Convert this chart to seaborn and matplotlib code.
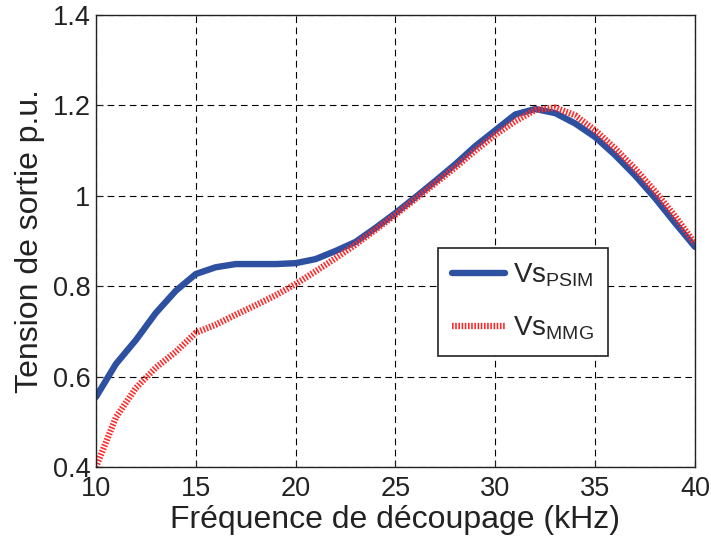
import matplotlib
matplotlib.use('Agg')
import matplotlib.pyplot as plt
import seaborn as sns
import pandas as pd
from matplotlib.ticker import FuncFormatter

# switching frequency (kHz)
freq = [10, 11, 12, 13, 14, 15, 16, 17, 18, 19, 20, 21, 22, 23, 24, 25,
        26, 27, 28, 29, 30, 31, 32, 33, 34, 35, 36, 37, 38, 39, 40]
# output voltage p.u., PSIM simulation
vs_psim = [0.555, 0.628, 0.681, 0.741, 0.790, 0.827, 0.842, 0.849, 0.849, 0.849, 0.851,
           0.860, 0.878, 0.898, 0.929, 0.962, 0.997, 1.033, 1.070, 1.110, 1.145,
           1.180, 1.192, 1.183, 1.160, 1.130, 1.090, 1.045, 0.995, 0.940, 0.887]
# output voltage p.u., MMG model
vs_mmg = [0.400, 0.510, 0.575, 0.620, 0.655, 0.697, 0.715, 0.737, 0.758, 0.780, 0.805,
          0.833, 0.862, 0.892, 0.925, 0.958, 0.993, 1.028, 1.063, 1.100, 1.135,
          1.165, 1.190, 1.195, 1.178, 1.145, 1.105, 1.060, 1.010, 0.955, 0.895]

labels = [r'Vs$_{\mathrm{PSIM}}$', r'Vs$_{\mathrm{MMG}}$']

df = pd.DataFrame({
    'f': freq * 2,
    'v': vs_psim + vs_mmg,
    'serie': [labels[0]] * len(freq) + [labels[1]] * len(freq),
})

sns.set_style('ticks')
plt.rcParams['font.family'] = ['Liberation Sans', 'DejaVu Sans']
plt.rcParams['mathtext.fontset'] = 'custom'
plt.rcParams['mathtext.rm'] = 'Liberation Sans'
plt.rcParams['mathtext.it'] = 'Liberation Sans'
txt = '#222222'

fig = plt.figure(figsize=(7.11, 5.36), dpi=100)
ax = fig.add_axes([0.135, 0.1287, 0.8425, 0.8433])

sns.lineplot(data=df, x='f', y='v', hue='serie', style='serie',
             palette={labels[0]: '#2e50a0', labels[1]: '#ff2828'},
             dashes={labels[0]: '', labels[1]: (0.25, 0.25)},
             linewidth=4.6, ax=ax, legend=False, sort=False)

ax.set_xlim(10, 40)
ax.set_ylim(0.4, 1.4)
ax.set_xticks([10, 15, 20, 25, 30, 35, 40])
ax.set_yticks([0.4, 0.6, 0.8, 1.0, 1.2, 1.4])
ax.yaxis.set_major_formatter(FuncFormatter(lambda v, p: ('%g' % round(v, 2))))
ax.grid(True, color='black', linestyle=(0, (6, 4)), linewidth=0.8)
ax.tick_params(direction='in', labelsize=19.5, length=5, width=0.8,
               colors=txt, top=False, right=False)
ax.tick_params(axis='y', pad=4)
ax.tick_params(axis='x', pad=6.5)
for s in ax.spines.values():
    s.set_color(txt)
    s.set_linewidth(1.0)

ax.set_xlabel('Fréquence de découpage (kHz)', fontsize=23, color=txt, labelpad=2)
ax.set_ylabel('Tension de sortie p.u.', fontsize=23, color=txt, labelpad=5)

lines = ax.get_lines()[:2]
leg = ax.legend(lines, labels, loc='upper left', bbox_to_anchor=(0.571, 0.4845),
                borderaxespad=0, fontsize=20, frameon=True, fancybox=False,
                framealpha=1, edgecolor=txt, handlelength=1.9,
                labelspacing=0.9, borderpad=0.5, handletextpad=0.3)
leg.get_frame().set_linewidth(1.2)

fig.savefig('out.png', dpi=100)
